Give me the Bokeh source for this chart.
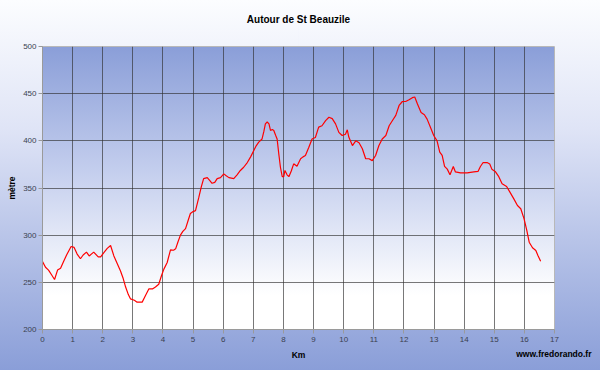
from bokeh.plotting import figure
from bokeh.models import Range1d, Title, FixedTicker, LinearAxis
from bokeh.embed import file_html
from bokeh.resources import INLINE

# Distance (km) and elevation (m)
km = [0.00, 0.10, 0.20, 0.30, 0.40, 0.50, 0.60, 0.70, 0.80, 0.95,
      1.05, 1.15, 1.26, 1.35, 1.46, 1.55, 1.70, 1.85, 1.93, 2.05,
      2.15, 2.26, 2.37, 2.48, 2.59, 2.68, 2.76, 2.85, 2.92, 3.05,
      3.14, 3.31, 3.42, 3.53, 3.65, 3.75, 3.86, 3.95, 4.03, 4.14,
      4.25, 4.35, 4.42, 4.50, 4.58, 4.66, 4.75, 4.83, 4.91, 5.00,
      5.08, 5.19, 5.27, 5.35, 5.47, 5.55, 5.63, 5.72, 5.80, 5.91,
      6.02, 6.10, 6.19, 6.35, 6.46, 6.57, 6.68, 6.80, 6.91, 7.02,
      7.10, 7.18, 7.29, 7.35, 7.40, 7.46, 7.52, 7.57, 7.63, 7.68,
      7.74, 7.79, 7.85, 7.90, 7.96, 8.01, 8.05, 8.12, 8.18, 8.26,
      8.34, 8.45, 8.57, 8.65, 8.73, 8.84, 8.95, 9.06, 9.17, 9.28,
      9.40, 9.51, 9.62, 9.73, 9.84, 9.95, 10.06, 10.12, 10.17, 10.29,
      10.40, 10.51, 10.62, 10.73, 10.84, 10.95, 11.06, 11.17, 11.28, 11.40,
      11.51, 11.62, 11.73, 11.84, 11.95, 12.06, 12.17, 12.28, 12.36, 12.45,
      12.57, 12.68, 12.77, 12.88, 12.99, 13.10, 13.19, 13.27, 13.35, 13.44,
      13.53, 13.64, 13.71, 13.88, 14.10, 14.32, 14.46, 14.54, 14.63, 14.76,
      14.85, 14.92, 15.03, 15.15, 15.26, 15.41, 15.52, 15.65, 15.77, 15.88,
      15.99, 16.08, 16.16, 16.27, 16.38, 16.45, 16.54]
alt = [272, 266, 263, 258, 253, 263, 265, 272, 279, 288,
       287, 280, 275, 279, 282, 278, 282, 277, 277, 282,
       286, 289, 278, 270, 262, 254, 245, 237, 232.5, 231,
       229, 229, 236, 243, 243, 245, 248, 257, 264, 271,
       284.5, 284, 285.5, 293, 300, 304, 307, 315, 323, 325,
       326, 340, 351, 360, 361, 358, 355, 356, 360, 361,
       365, 363, 361, 360, 364, 368.6, 372, 377, 383, 390,
       395, 398.6, 402, 410, 418, 420, 418, 411, 412, 411,
       406, 402, 385, 372, 362, 362, 368.6, 364, 362, 368,
       375.6, 373, 381, 383, 384.5, 393, 402, 403.5, 414.5, 416,
       421.5, 425, 423.6, 418, 409, 405.6, 407, 411.7, 404, 395,
       400, 398, 391.6, 381, 381, 379, 384.5, 395, 402, 405.6,
       416, 421.5, 427, 437.5, 441.7, 441.7, 443.5, 445.8, 446.5, 439,
       430, 427.7, 423, 414.5, 405.6, 400, 388, 384.5, 373, 370,
       364, 372.8, 367, 366, 366, 367, 367.6, 372.8, 377, 377,
       375.5, 370, 367.6, 362, 354.4, 351.6, 345.6, 338.5, 331.4, 328,
       317.3, 305, 292.5, 286.6, 283.7, 278.4, 272.4]

x_ticks = list(range(0, 18))
y_ticks = [200, 250, 300, 350, 400, 450, 500]

FONT = "Liberation Sans"

p = figure(width=600, height=370, output_backend="svg", toolbar_location=None,
           x_range=Range1d(0, 17), y_range=Range1d(200, 500),
           min_border_left=42, min_border_right=46, min_border_top=46,
           min_border_bottom=41)

xaxis = p.below[0]
yaxis = p.left[0]

p.styles = {
    "background":
        "linear-gradient(to bottom, #8a9ed8 0%, #c5cfee 45%, #ffffff 88%) 42px 46px / 512px 283px no-repeat, "
        "linear-gradient(to bottom, #fcfdff 0%, #dfe4f6 35%, #8a9ed8 100%)"
}
p.border_fill_alpha = 0
p.background_fill_alpha = 0
p.outline_line_color = "#b8b8b8"

# invisible spacer between the frame and the title
spacer = LinearAxis(ticker=FixedTicker(ticks=[8.5]), major_label_overrides={8.5: ""},
                    axis_line_color=None, minor_tick_line_color=None,
                    major_tick_line_color="#8a9ed8", major_tick_line_alpha=0.01,
                    major_tick_out=21, major_tick_in=0, major_label_standoff=0,
                    major_label_text_font_size="1px")
p.add_layout(spacer, "above")

p.title.text = "Autour de St Beauzile"
p.title.align = "center"
p.title.text_font = FONT
p.title.text_font_size = "10px"
p.title.text_font_style = "bold"
p.title.text_color = "#000000"
p.title.standoff = 2

for ax in (xaxis, yaxis):
    ax.major_label_text_font = FONT
    ax.major_label_text_font_size = "8px"
    ax.major_label_text_color = "#3a3f50"
    ax.axis_line_color = "#9a9a9a"
    ax.major_tick_line_color = "#9a9a9a"
    ax.major_tick_out = 4
    ax.major_tick_in = 0
    ax.minor_tick_line_color = None
    ax.axis_label_text_font = FONT
    ax.axis_label_text_font_size = "8.5px"
    ax.axis_label_text_font_style = "bold"
    ax.axis_label_text_color = "#000000"

xaxis.ticker = FixedTicker(ticks=x_ticks)
yaxis.ticker = FixedTicker(ticks=y_ticks)
xaxis.major_label_standoff = 3
yaxis.major_label_standoff = 2
xaxis.axis_label = "Km"
xaxis.axis_label_standoff = 5
yaxis.axis_label = "mètre"
yaxis.axis_label_standoff = 3

p.xgrid.ticker = FixedTicker(ticks=x_ticks)
p.ygrid.ticker = FixedTicker(ticks=y_ticks)
for g in (p.xgrid[0], p.ygrid[0]):
    g.grid_line_color = "#303030"
    g.grid_line_alpha = 0.65
    g.grid_line_width = 1

p.line(km, alt, line_color="#ff0000", line_width=1.2)

credit = Title(text="www.fredorando.fr", align="right", offset=-37, standoff=-27,
               vertical_align="top",
               text_font=FONT, text_font_size="8.5px", text_font_style="bold",
               text_color="#000000")
p.add_layout(credit, "below")

open("out.html", "w").write(file_html(p, INLINE))
